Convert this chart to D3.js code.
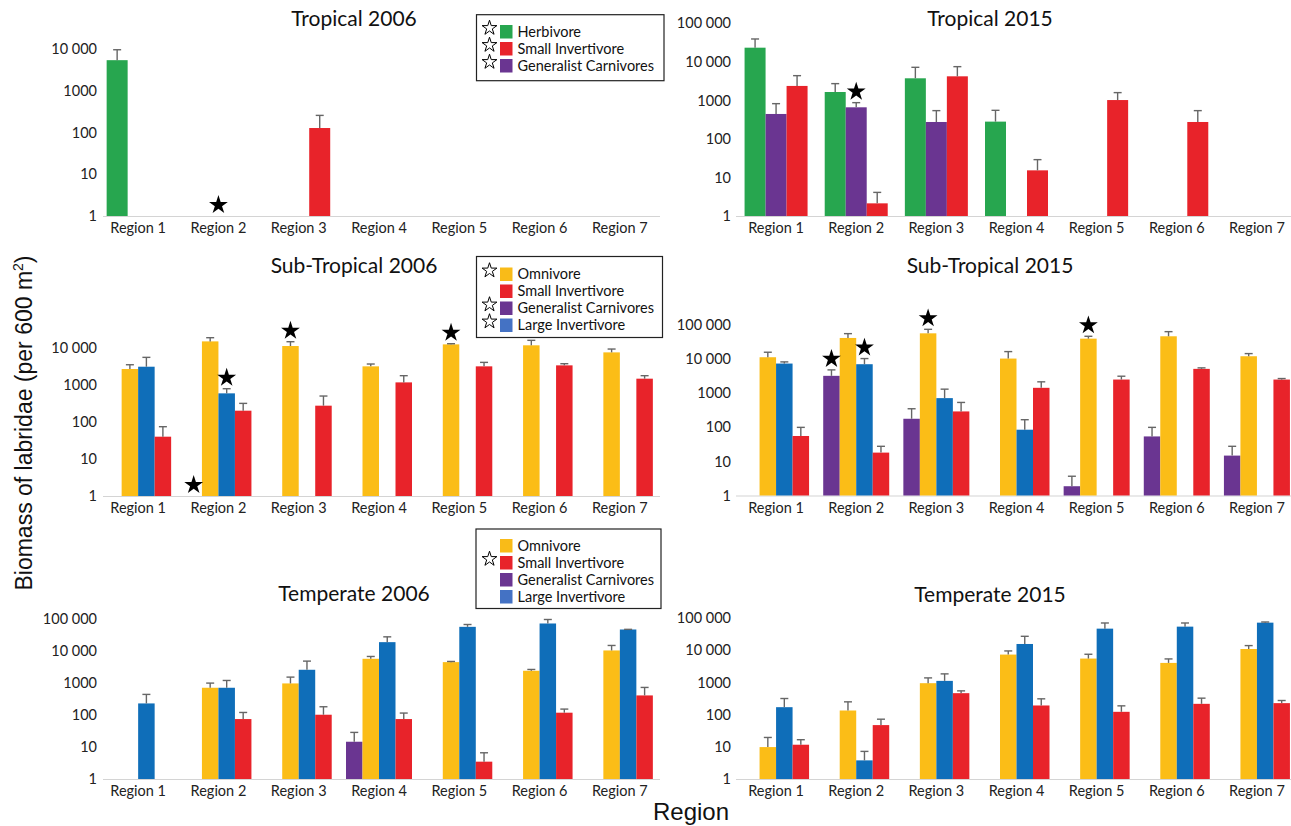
<!DOCTYPE html>
<html>
<head>
<meta charset="utf-8">
<script src="https://cdn.jsdelivr.net/npm/d3@7"></script>
<style>
  body { margin: 0; background: #fff; }
  svg { display: block; }
  .tick text { font-family: Lato, "Open Sans", sans-serif; font-size: 14.5px; fill: #222; }
</style>
</head>
<body>
<svg id="chart" width="1291" height="826"></svg>
<script>
// ---- categories and tick labels ----
const regions = ["Region 1", "Region 2", "Region 3", "Region 4", "Region 5", "Region 6", "Region 7"];
const ticks4 = [1, 10, 100, 1000, 10000];
const ticks5 = [1, 10, 100, 1000, 10000, 100000];
const tickLabels = ["1", "10", "100", "1000", "10 000", "100 000"];

// ---- Tropical 2006 (mean biomass, upper error) ----
const trop06Herbivore    = [5400, null, null, null, null, null, null];
const trop06HerbivoreErr = [9600, null, null, null, null, null, null];
const trop06SmallInv     = [null, null, 128, null, null, null, null];
const trop06SmallInvErr  = [null, null, 257, null, null, null, null];

// ---- Tropical 2015 ----
const trop15Herbivore    = [23300, 1650, 3740, 281, null, null, null];
const trop15HerbivoreErr = [39200, 2720, 7210, 552, null, null, null];
const trop15Carnivore    = [444, 661, 275, null, null, null, null];
const trop15CarnivoreErr = [822, 873, 542, null, null, null, null];
const trop15SmallInv     = [2370, 2.13, 4210, 15.3, 1020, 275, null];
const trop15SmallInvErr  = [4380, 4.1, 7500, 29, 1590, 542, null];

// ---- Sub-Tropical 2006 ----
const sub06Omnivore    = [2660, 14800, 11100, 3140, 12300, 11600, 7480];
const sub06OmnivoreErr = [3470, 18600, 14500, 3630, 12800, 15800, 9200];
const sub06LargeInv    = [3070, 587, null, null, null, null, null];
const sub06LargeInvErr = [5490, 783, null, null, null, null, null];
const sub06SmallInv    = [39.8, 200, 273, 1160, 3140, 3340, 1460];
const sub06SmallInvErr = [74, 315, 497, 1760, 4020, 3700, 1760];

// ---- Sub-Tropical 2015 ----
const sub15Carnivore    = [null, 3230, 178, null, 1.87, 54, 14.8];
const sub15CarnivoreErr = [null, 4830, 350, null, 3.67, 99.6, 27.7];
const sub15Omnivore     = [11340, 41700, 57000, 10370, 39800, 46700, 12130];
const sub15OmnivoreErr  = [15900, 55800, 74700, 16600, 46700, 63800, 14500];
const sub15LargeInv     = [7400, 7080, 717, 85, null, null, null];
const sub15LargeInvErr  = [8280, 10370, 1314, 167, null, null, null];
const sub15SmallInv     = [55.6, 18.1, 292, 1438, 2514, 5170, 2514];
const sub15SmallInvErr  = [99.6, 27.7, 536, 2155, 3150, 5530, 2690];

// ---- Temperate 2006 ----
const temp06Carnivore    = [null, null, null, 14.6, null, null, null];
const temp06CarnivoreErr = [null, null, null, 28.6, null, null, null];
const temp06Omnivore     = [null, 710, 970, 5710, 4490, 2410, 10400];
const temp06OmnivoreErr  = [null, 993, 1528, 6750, 4710, 2650, 14900];
const temp06LargeInv     = [230, 710, 2590, 18900, 56900, 72400, 47000];
const temp06LargeInvErr  = [440, 1200, 4830, 27700, 67300, 96500, 47500];
const temp06SmallInv     = [null, 74.7, 102, 74.7, 3.48, 118, 409];
const temp06SmallInvErr  = [null, 120, 181, 115, 6.6, 153, 727];

// ---- Temperate 2015 ----
const temp15Omnivore    = [9.8, 134, 945, 7310, 5500, 4030, 10900];
const temp15OmnivoreErr = [19.5, 249, 1380, 9490, 7480, 5360, 13900];
const temp15LargeInv    = [170, 3.79, 1115, 15600, 46700, 53900, 71700];
const temp15LargeInvErr = [316, 7.2, 1840, 27000, 70000, 70000, 75100];
const temp15SmallInv    = [11.6, 47.2, 463, 192, 122, 216, 227];
const temp15SmallInvErr = [16.6, 72, 546, 309, 187, 324, 274];

// ---- significance stars: [region index, guild] ----
const trop06Stars = [[1, "carn"]];
const trop15Stars = [[1, "carn"]];
const sub06Stars  = [[1, "carn"], [1, "large"], [2, "omni"], [4, "omni"]];
const sub15Stars  = [[1, "carn"], [1, "large"], [2, "omni"], [4, "omni"]];

// ---- legends ----
const legendTropical = [["herb", "Herbivore", true], ["small", "Small Invertivore", true], ["carn", "Generalist Carnivores", true]];
const legendSub      = [["omni", "Omnivore", true], ["small", "Small Invertivore", false], ["carn", "Generalist Carnivores", true], ["large", "Large Invertivore", true]];
const legendTemp     = [["omni", "Omnivore", false], ["small", "Small Invertivore", true], ["carn", "Generalist Carnivores", false], ["large", "Large Invertivore", false]];

const barColor = { herb: "#27a64f", carn: "#6a3591", omni: "#fbbd17", large: "#0f6eb9", small: "#e8232a" };
const keyColor = { herb: "#27a64f", carn: "#6a3591", omni: "#f9bb18", large: "#4472c4", small: "#e8232a" };

const svg = d3.select("#chart");
const FONT = "Lato, 'Open Sans', sans-serif";

const L = { x0: 98, x1: 660, lineStart: 103, labelX: 97, titleX: 354 };
const R = { x0: 736, x1: 1297, lineStart: 736, labelX: 731, titleX: 990 };

const panels = [
  { side: L, title: "Tropical 2006", titleY: 19, max: 1e4, ticks: ticks4, yTop: 49, yBase: 216, keys: ["herb", "carn", "small"], groupW: 63,
    series: [["herb", trop06Herbivore, trop06HerbivoreErr], ["small", trop06SmallInv, trop06SmallInvErr]], stars: trop06Stars },
  { side: R, title: "Tropical 2015", titleY: 19, max: 1e5, ticks: ticks5, yTop: 23.3, yBase: 216, keys: ["herb", "carn", "small"], groupW: 63,
    series: [["herb", trop15Herbivore, trop15HerbivoreErr], ["carn", trop15Carnivore, trop15CarnivoreErr], ["small", trop15SmallInv, trop15SmallInvErr]], stars: trop15Stars },
  { side: L, title: "Sub-Tropical 2006", titleY: 266, max: 1e4, ticks: ticks4, yTop: 347.7, yBase: 496, keys: ["carn", "omni", "large", "small"], groupW: 66,
    series: [["omni", sub06Omnivore, sub06OmnivoreErr], ["large", sub06LargeInv, sub06LargeInvErr], ["small", sub06SmallInv, sub06SmallInvErr]], stars: sub06Stars },
  { side: R, title: "Sub-Tropical 2015", titleY: 266, max: 1e5, ticks: ticks5, yTop: 325, yBase: 495.5, keys: ["carn", "omni", "large", "small"], groupW: 66,
    series: [["carn", sub15Carnivore, sub15CarnivoreErr], ["omni", sub15Omnivore, sub15OmnivoreErr], ["large", sub15LargeInv, sub15LargeInvErr], ["small", sub15SmallInv, sub15SmallInvErr]], stars: sub15Stars },
  { side: L, title: "Temperate 2006", titleY: 594, max: 1e5, ticks: ticks5, yTop: 619, yBase: 779, keys: ["carn", "omni", "large", "small"], groupW: 66,
    series: [["carn", temp06Carnivore, temp06CarnivoreErr], ["omni", temp06Omnivore, temp06OmnivoreErr], ["large", temp06LargeInv, temp06LargeInvErr], ["small", temp06SmallInv, temp06SmallInvErr]], stars: [] },
  { side: R, title: "Temperate 2015", titleY: 595, max: 1e5, ticks: ticks5, yTop: 618, yBase: 779, keys: ["carn", "omni", "large", "small"], groupW: 66,
    series: [["omni", temp15Omnivore, temp15OmnivoreErr], ["large", temp15LargeInv, temp15LargeInvErr], ["small", temp15SmallInv, temp15SmallInvErr]], stars: [] }
];

function drawPanel(p) {
  const s = p.side;
  const g = svg.append("g");
  const x = d3.scaleBand().domain(regions).range([s.x0, s.x1]);
  const y = d3.scaleLog().domain([1, p.max]).range([p.yBase, p.yTop]);
  const slot = d3.scaleBand().domain(p.keys).range([-p.groupW / 2, p.groupW / 2]);
  const cx = (i, key) => x(regions[i]) + x.bandwidth() / 2 + slot(key);

  // title
  g.append("text").attr("x", s.titleX).attr("y", p.titleY).attr("dy", "0.35em")
    .attr("text-anchor", "middle").attr("font-family", FONT).attr("font-size", 21).attr("fill", "#111")
    .text(p.title);

  // y axis (labels only)
  const yAxis = d3.axisLeft(y).tickValues(p.ticks).tickFormat((d, i) => tickLabels[i]).tickSize(0).tickPadding(0);
  const ya = g.append("g").attr("transform", `translate(${s.labelX},0)`).call(yAxis);
  ya.select(".domain").remove();

  // x axis
  const xAxis = d3.axisBottom(x).tickSize(0).tickPadding(7);
  const xa = g.append("g").attr("transform", `translate(0,${p.yBase})`).call(xAxis);
  xa.select(".domain").remove();
  g.append("line").attr("x1", s.lineStart).attr("x2", s.x1).attr("y1", p.yBase + 0.5).attr("y2", p.yBase + 0.5)
    .attr("stroke", "#d4d4d4").attr("stroke-width", 1.2);

  // bars and upper error bars
  const recs = [];
  p.series.forEach(([key, vals, errs]) => vals.forEach((v, i) => {
    if (v != null) recs.push({ key, i, v, e: errs[i] });
  }));
  g.selectAll("rect.bar").data(recs).join("rect").attr("class", "bar")
    .attr("x", d => cx(d.i, d.key)).attr("width", slot.bandwidth())
    .attr("y", d => y(d.v)).attr("height", d => p.yBase - y(d.v))
    .attr("fill", d => barColor[d.key]);

  const eb = g.selectAll("g.err").data(recs.filter(d => d.e != null)).join("g").attr("class", "err")
    .attr("stroke", "#666").attr("stroke-width", 1.4);
  eb.append("line")
    .attr("x1", d => cx(d.i, d.key) + slot.bandwidth() / 2).attr("x2", d => cx(d.i, d.key) + slot.bandwidth() / 2)
    .attr("y1", d => y(d.v)).attr("y2", d => y(d.e));
  eb.append("line")
    .attr("x1", d => cx(d.i, d.key) + slot.bandwidth() / 2 - 4).attr("x2", d => cx(d.i, d.key) + slot.bandwidth() / 2 + 4)
    .attr("y1", d => y(d.e)).attr("y2", d => y(d.e));

  // significance stars above each marked bar
  const lookup = {};
  p.series.forEach(([key, vals, errs]) => { lookup[key] = { vals, errs }; });
  g.selectAll("path.star").data(p.stars).join("path").attr("class", "star")
    .attr("d", d3.symbol(d3.symbolStar).size(110)())
    .attr("fill", "#000")
    .attr("transform", ([i, key]) => {
      const ser = lookup[key];
      const top = ser && ser.vals[i] != null ? y(ser.errs[i] != null ? ser.errs[i] : ser.vals[i]) : p.yBase;
      return `translate(${cx(i, key) + slot.bandwidth() / 2},${top - 11})`;
    });
}

panels.forEach(drawPanel);

// legends
function drawLegend(items, bx, by, bw, bh, rowY0, rowStep) {
  const g = svg.append("g");
  g.append("rect").attr("x", bx).attr("y", by).attr("width", bw).attr("height", bh)
    .attr("fill", "#fff").attr("stroke", "#222").attr("stroke-width", 1.2);
  items.forEach(([key, label, star], k) => {
    const cy = rowY0 + k * rowStep;
    g.append("rect").attr("x", 500).attr("y", cy - 6.5).attr("width", 12.5).attr("height", 13.5).attr("fill", keyColor[key]);
    g.append("text").attr("x", 517.5).attr("y", cy).attr("dy", "0.35em")
      .attr("font-family", FONT).attr("font-size", 14.5).attr("fill", "#111").text(label);
    if (star) {
      g.append("path").attr("d", d3.symbol(d3.symbolStar).size(68)())
        .attr("transform", `translate(489.5,${cy - 3.5})`)
        .attr("fill", "#fff").attr("stroke", "#000").attr("stroke-width", 1);
    }
  });
}
drawLegend(legendTropical, 476.5, 14.7, 187.5, 66, 31.5, 17);
drawLegend(legendSub, 476.5, 256.5, 186, 81, 274, 17);
drawLegend(legendTemp, 476, 529, 185, 79.5, 545.5, 17);

// shared axis titles
svg.append("text")
  .attr("transform", "translate(32,423) rotate(-90)")
  .attr("text-anchor", "middle")
  .attr("font-family", "'Liberation Sans', Arial, sans-serif").attr("font-size", 23).attr("fill", "#111")
  .call(t => {
    t.append("tspan").text("Biomass of labridae (per 600 m");
    t.append("tspan").attr("font-size", 14).attr("dy", -9).text("2");
    t.append("tspan").attr("dy", 9).text(")");
  });
svg.append("text").attr("x", 691).attr("y", 820).attr("text-anchor", "middle")
  .attr("font-family", "'Liberation Sans', Arial, sans-serif").attr("font-size", 24).attr("fill", "#111")
  .text("Region");
</script>
</body>
</html>
